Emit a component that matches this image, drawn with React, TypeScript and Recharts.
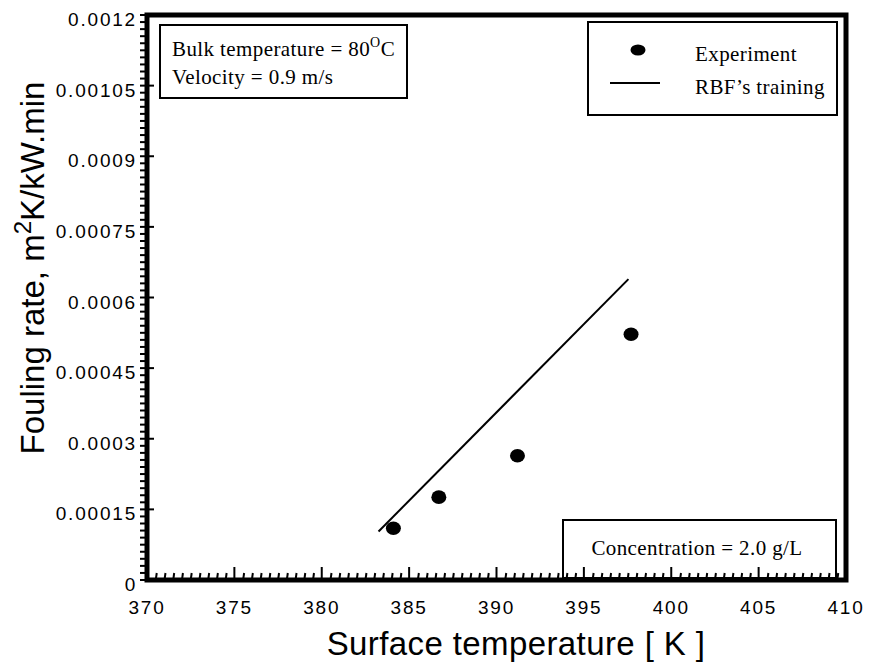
import { ScatterChart, Scatter, XAxis, YAxis, ReferenceArea, Customized } from "recharts";

// experiment points
const expTemp = [384.1, 386.7, 391.2, 397.7];
const expRate = [0.00011, 0.000176, 0.000264, 0.000522];

// RBF training line (end points)
const rbfTemp = [383.25, 397.55];
const rbfRate = [0.000103, 0.000639];

const xMajor = [370, 375, 380, 385, 390, 395, 400, 405, 410];
const yMajorLabels = ["0", "0.00015", "0.0003", "0.00045", "0.0006", "0.00075", "0.0009", "0.00105", "0.0012"];

const MINOR = 10;
const xTicks: number[] = [];
for (let i = 0; i <= (xMajor.length - 1) * MINOR; i++) xTicks.push(370 + i * 0.5);
const yTicks: number[] = [];
for (let i = 0; i <= (yMajorLabels.length - 1) * MINOR; i++) yTicks.push((i * 15) / 1e6);

const expData = expTemp.map((t, i) => ({ t, r: expRate[i] }));
const rbfData = rbfTemp.map((t, i) => ({ t, r: rbfRate[i] }));

const SANS = "'Liberation Sans', Arial, sans-serif";
const SERIF = "'Liberation Serif', 'Times New Roman', serif";

const XTick = (props: any) => {
  const { x, y, index } = props;
  const major = index % MINOR === 0;
  return (
    <g>
      <line x1={x} x2={x + (major ? 0 : 1)} y1={y} y2={y - (major ? 13 : 7)} stroke="#000" strokeWidth={2} />
      {major && (
        <text x={x} y={y + 34} textAnchor="middle" fontFamily={SANS} fontSize={19} letterSpacing={1.8} fill="#000">
          {xMajor[index / MINOR]}
        </text>
      )}
    </g>
  );
};

const YTick = (props: any) => {
  const { x, y, index } = props;
  const major = index % MINOR === 0;
  return (
    <g>
      <line x1={major ? x + 7 : x} x2={x - 7} y1={y} y2={y} stroke="#000" strokeWidth={2} />
      {major && (
        <text x={x - 10} y={y + 11} textAnchor="end" fontFamily={SANS} fontSize={19} letterSpacing={1.8} fill="#000">
          {yMajorLabels[index / MINOR]}
        </text>
      )}
    </g>
  );
};

const Dot = (props: any) => <ellipse cx={props.cx} cy={props.cy} rx={7.5} ry={6.8} fill="#000" />;

const Annotations = () => (
  <g>
    {/* conditions box */}
    <rect x={160} y={25} width={247} height={73} fill="#fff" stroke="#000" strokeWidth={2} />
    <text x={172} y={56} fontFamily={SERIF} fontSize={21} letterSpacing={0.4} fill="#000">
      Bulk temperature = 80
      <tspan fontSize={14} dy={-9}>O</tspan>
      <tspan dy={9}>C</tspan>
    </text>
    <text x={172} y={84} fontFamily={SERIF} fontSize={21} letterSpacing={0.4} fill="#000">
      Velocity = 0.9 m/s
    </text>

    {/* legend */}
    <rect x={588} y={22} width={249} height={93} fill="#fff" stroke="#000" strokeWidth={2} />
    <ellipse cx={638} cy={50} rx={7.5} ry={5.5} fill="#000" />
    <line x1={610} x2={660} y1={83} y2={83} stroke="#000" strokeWidth={2} />
    <text x={695} y={61} fontFamily={SERIF} fontSize={21} letterSpacing={0.4} fill="#000">
      Experiment
    </text>
    <text x={695} y={94} fontFamily={SERIF} fontSize={21} letterSpacing={0.4} fill="#000">
      RBF’s training
    </text>

    {/* concentration box */}
    <rect x={563} y={520} width={273} height={58} fill="#fff" stroke="#000" strokeWidth={2} />
    <text x={697} y={555} textAnchor="middle" fontFamily={SERIF} fontSize={21} letterSpacing={0.4} fill="#000">
      Concentration = 2.0 g/L
    </text>

    {/* axis titles */}
    <text x={516} y={655} textAnchor="middle" fontFamily={SANS} fontSize={33} letterSpacing={0.4} fill="#000">
      Surface temperature [ K ]
    </text>
    <text
      x={44}
      y={268}
      transform="rotate(-90 44 268)"
      textAnchor="middle"
      fontFamily={SANS}
      fontSize={33}
      fill="#000"
    >
      Fouling rate, m<tspan fontSize={24} dy={-13}>2</tspan>
      <tspan dy={13}>K/kW.min</tspan>
    </text>
  </g>
);

export default function App() {
  return (
    <div style={{ position: "absolute", left: 0, top: 0, background: "#fff" }}>
      <ScatterChart width={872} height={664} margin={{ top: 15, right: 26, bottom: 54, left: 67 }}>
        <XAxis
          type="number"
          dataKey="t"
          domain={[370, 410]}
          ticks={xTicks}
          interval={0}
          axisLine={false}
          tickLine={false}
          tickSize={0}
          tickMargin={0}
          height={30}
          tick={<XTick />}
        />
        <YAxis
          type="number"
          dataKey="r"
          domain={[0, 0.0012]}
          ticks={yTicks}
          interval={0}
          axisLine={false}
          tickLine={false}
          tickSize={0}
          tickMargin={0}
          width={80}
          tick={<YTick />}
        />
        <Customized component={Annotations} />
        <Scatter
          data={rbfData}
          line={{ stroke: "#000", strokeWidth: 2 }}
          shape={() => <g />}
          isAnimationActive={false}
        />
        <Scatter data={expData} shape={<Dot />} isAnimationActive={false} />
        <ReferenceArea
          x1={370}
          x2={410}
          y1={0}
          y2={0.0012}
          fill="none"
          fillOpacity={0}
          stroke="#000"
          strokeWidth={5}
          ifOverflow="visible"
        />
      </ScatterChart>
    </div>
  );
}
